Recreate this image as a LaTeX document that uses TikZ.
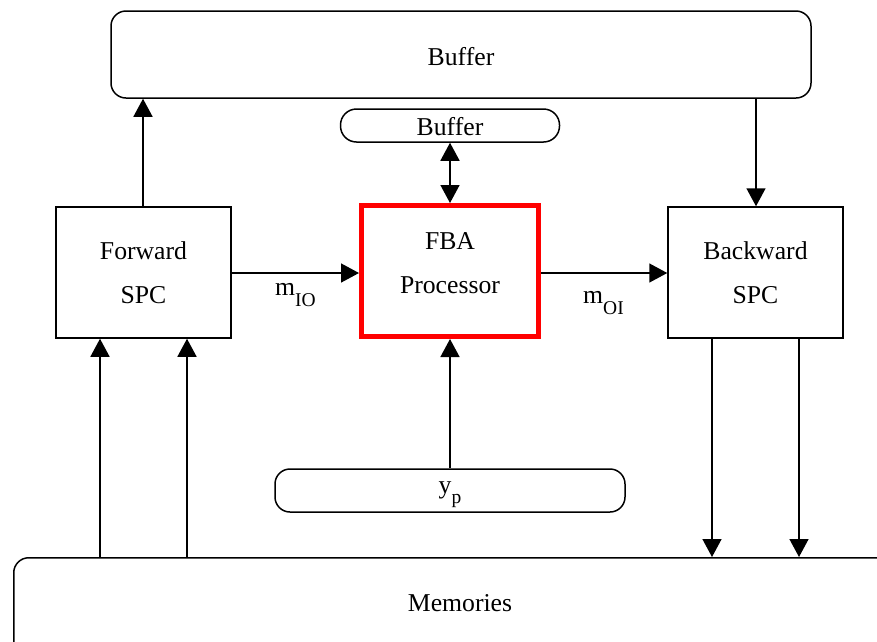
\documentclass[tikz,border=0pt]{standalone}
\usepackage{fontspec}
\setmainfont{Liberation Serif}
\usetikzlibrary{arrows.meta}
\definecolor{fbared}{RGB}{255,0,0}
\newcommand{\subtxt}[2][10pt]{\raisebox{-#1}{\fontsize{19.5}{20}\selectfont #2}}
\begin{document}
\begin{tikzpicture}[x=1pt,y=-1pt,
  font=\fontsize{25.7}{44}\selectfont,
  mytip/.tip={Triangle[length=18pt,width=19pt]},
  blk/.style={draw, line width=1.5pt, inner sep=0pt, align=center},
  rbox/.style={blk, rounded corners=15pt},
  pill/.style={blk, rounded corners=16pt},
  arr/.style={line width=1.5pt, -mytip},
  darr/.style={line width=1.5pt, mytip-mytip},
  lbl/.style={inner sep=0pt, anchor=base west}]
\useasboundingbox (0,0) rectangle (877,641);

% boxes
\node[rbox, minimum width=700pt, minimum height=87pt, text height=22pt] (topbuf) at (461,54.5) {Buffer};
\node[pill, minimum width=219pt, minimum height=33pt, text height=21pt] (sbuf) at (450,125.5) {Buffer};
\node[blk, minimum width=175pt, minimum height=131pt] (fwd) at (143.5,272.5) {Forward\\SPC};
\node[blk, draw=fbared, line width=5pt, minimum width=177pt, minimum height=131pt, text depth=15pt] (fba) at (450,271) {FBA\\Processor};
\node[blk, minimum width=175pt, minimum height=131pt] (bwd) at (755.5,272.5) {Backward\\SPC};
\node[rbox, minimum width=350pt, minimum height=43pt] (yp) at (450,490.5) {y\smash{\subtxt{p}}};
\node[rbox, minimum width=900pt, minimum height=150pt, anchor=north west] (mem) at (13,557) {};
\node[inner sep=0pt] (memtxt) at (460,603) {Memories};

% labels
\node[lbl] (mio) at (275,295) {m\subtxt[11pt]{IO}};
\node[lbl] (moi) at (583,303) {m\subtxt[11pt]{OI}};

% x positions
\coordinate (xa) at (143,0);
\coordinate (xb) at (756,0);
\coordinate (xc) at (100,0);
\coordinate (xd) at (187,0);
\coordinate (xe) at (712,0);
\coordinate (xf) at (799,0);
\coordinate (yh) at (0,273);

% connectors
\draw[arr] (fwd.north -| xa) -- (topbuf.south -| xa);
\draw[arr] (topbuf.south -| xb) -- (bwd.north -| xb);
\draw[darr] (sbuf.south) -- (fba.north);
\draw[arr] (yp.north) -- (fba.south);
\draw[arr] (fwd.east |- yh) -- (fba.west |- yh);
\draw[arr] (fba.east |- yh) -- (bwd.west |- yh);
\draw[arr] (mem.north -| xc) -- (fwd.south -| xc);
\draw[arr] (mem.north -| xd) -- (fwd.south -| xd);
\draw[arr] (bwd.south -| xe) -- (mem.north -| xe);
\draw[arr] (bwd.south -| xf) -- (mem.north -| xf);
\end{tikzpicture}
\end{document}
